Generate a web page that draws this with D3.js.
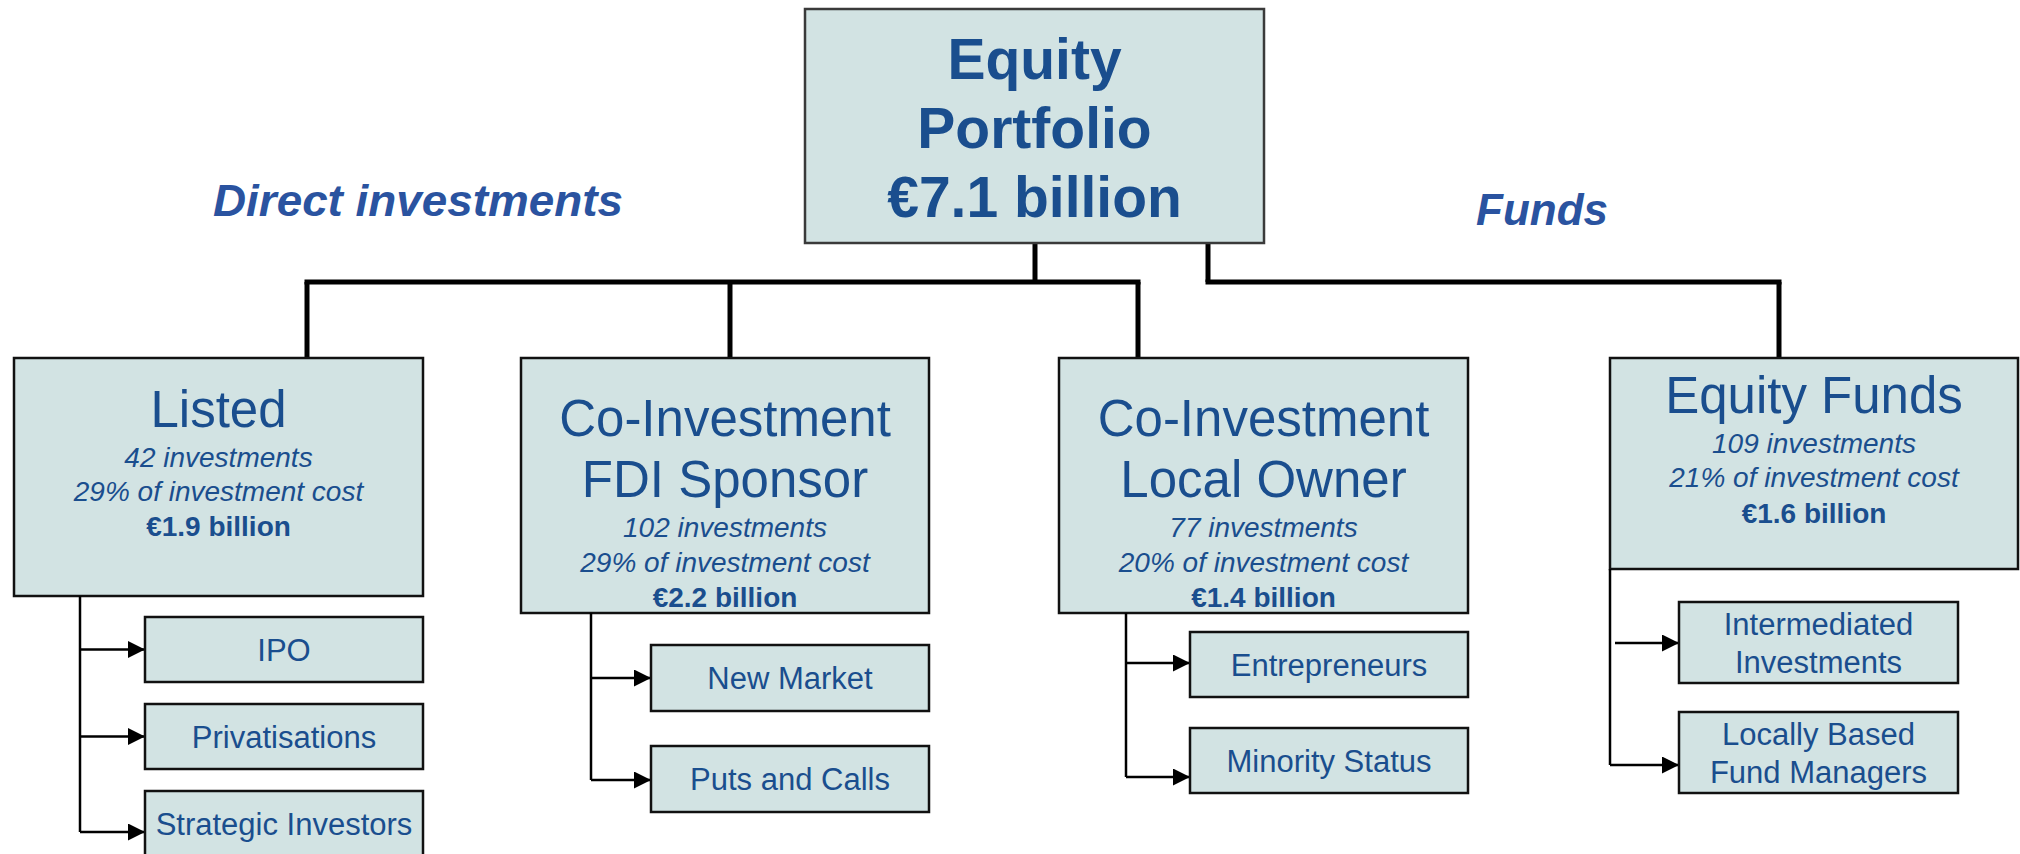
<!DOCTYPE html>
<html>
<head>
<meta charset="utf-8">
<script src="https://cdn.jsdelivr.net/npm/d3@7"></script>
<style>
  body { margin: 0; background: #fff; }
  svg { display: block; font-family: "Liberation Sans", Arial, sans-serif; }
</style>
</head>
<body>
<div id="chart"></div>
<script>
// chart content
const rootLines = ["Equity", "Portfolio", "€7.1 billion"];
const branchLabels = ["Direct investments", "Funds"];
const groupTitles = [["Listed"], ["Co-Investment", "FDI Sponsor"], ["Co-Investment", "Local Owner"], ["Equity Funds"]];
const investmentCounts = [42, 102, 77, 109];
const costShares = [29, 29, 20, 21];
const valuesBn = [1.9, 2.2, 1.4, 1.6];
const groupBranch = [0, 0, 0, 1];
const subTypes = [
  [["IPO"], ["Privatisations"], ["Strategic Investors"]],
  [["New Market"], ["Puts and Calls"]],
  [["Entrepreneurs"], ["Minority Status"]],
  [["Intermediated", "Investments"], ["Locally Based", "Fund Managers"]]
];

// layout (pixels)
const W = 2020, H = 854;
const fill = "#d2e3e3", ink = "#1a4e8e", headInk = "#2a53a0";
const busY = 282;
const root = {x: 805, y: 9, w: 459, h: 234, lineY: [79, 148, 217]};
const branchPos = [{x: 418, y: 216, stub: 1035}, {x: 1542, y: 225, stub: 1208}];
const layout = [
  {x: 14,   y: 358, w: 409, h: 238, top: 307,  titleY: [427],      infoY: [467, 501, 536], stemX: 80,   subX: 145,  subW: 278, subY: [617, 704, 791], subH: 65, arrowY: [649.5, 736.5, 832], arrowFrom: [80, 80, 80]},
  {x: 521,  y: 358, w: 408, h: 255, top: 730,  titleY: [436, 497], infoY: [537, 572, 607], stemX: 591,  subX: 651,  subW: 278, subY: [645, 746],      subH: 66, arrowY: [678, 780],          arrowFrom: [591, 591]},
  {x: 1059, y: 358, w: 409, h: 255, top: 1138, titleY: [436, 497], infoY: [537, 572, 607], stemX: 1126, subX: 1190, subW: 278, subY: [632, 728],      subH: 65, arrowY: [663, 777],          arrowFrom: [1126, 1126]},
  {x: 1610, y: 358, w: 408, h: 211, top: 1779, titleY: [413],      infoY: [453, 487, 523], stemX: 1610, subX: 1679, subW: 279, subY: [602, 712],      subH: 81, arrowY: [643, 765],          arrowFrom: [1615, 1610]}
];

const svg = d3.select("#chart").append("svg")
  .attr("width", W).attr("height", H);

svg.append("defs").append("marker")
  .attr("id", "arrow")
  .attr("viewBox", "0 0 10 10")
  .attr("refX", 10).attr("refY", 5)
  .attr("markerWidth", 17).attr("markerHeight", 17)
  .attr("markerUnits", "userSpaceOnUse")
  .attr("orient", "auto")
  .append("path").attr("d", "M0,0L10,5L0,10Z").attr("fill", "#000");

const line = d3.line();

// main tree connectors
branchPos.forEach((b, bi) => {
  const tops = layout.filter((g, i) => groupBranch[i] === bi).map(g => g.top);
  const xs = tops.concat([b.stub]);
  svg.append("path")
    .attr("d", line([[b.stub, root.y + root.h], [b.stub, busY]]))
    .attr("stroke", "#000").attr("stroke-width", 5).attr("fill", "none");
  svg.append("path")
    .attr("d", line([[d3.min(xs) - 2.5, busY], [d3.max(xs) + 2.5, busY]]))
    .attr("stroke", "#000").attr("stroke-width", 5).attr("fill", "none");
  tops.forEach(t => {
    svg.append("path")
      .attr("d", line([[t, busY], [t, 358]]))
      .attr("stroke", "#000").attr("stroke-width", 5).attr("fill", "none");
  });
});

// root box
svg.append("rect")
  .attr("x", root.x).attr("y", root.y).attr("width", root.w).attr("height", root.h)
  .attr("fill", fill).attr("stroke", "#3a3a3a").attr("stroke-width", 2.5);
svg.selectAll("text.root").data(rootLines).join("text")
  .attr("class", "root")
  .attr("x", root.x + root.w / 2).attr("y", (d, i) => root.lineY[i])
  .attr("text-anchor", "middle")
  .attr("font-size", 57).attr("font-weight", "bold").attr("fill", ink)
  .text(d => d);

// branch labels
svg.selectAll("text.branch").data(branchLabels).join("text")
  .attr("class", "branch")
  .attr("x", (d, i) => branchPos[i].x).attr("y", (d, i) => branchPos[i].y)
  .attr("text-anchor", "middle")
  .attr("font-size", 44).attr("font-weight", "bold").attr("font-style", "italic")
  .attr("fill", headInk)
  .attr("textLength", (d, i) => i === 0 ? 410 : null)
  .attr("lengthAdjust", "spacingAndGlyphs")
  .text(d => d);

// groups
const groups = svg.selectAll("g.group").data(layout).join("g").attr("class", "group");

groups.append("rect")
  .attr("x", d => d.x).attr("y", d => d.y).attr("width", d => d.w).attr("height", d => d.h)
  .attr("fill", fill).attr("stroke", "#111").attr("stroke-width", 2.5);

groups.each(function (g, gi) {
  const sel = d3.select(this);
  const cx = g.x + g.w / 2;
  sel.selectAll("text.title").data(groupTitles[gi]).join("text")
    .attr("class", "title")
    .attr("x", cx).attr("y", (d, i) => g.titleY[i])
    .attr("text-anchor", "middle").attr("font-size", 51).attr("fill", ink)
    .text(d => d);

  const info = [
    investmentCounts[gi] + " investments",
    costShares[gi] + "% of investment cost",
    "€" + valuesBn[gi].toFixed(1) + " billion"
  ];
  sel.selectAll("text.info").data(info).join("text")
    .attr("class", "info")
    .attr("x", cx).attr("y", (d, i) => g.infoY[i])
    .attr("text-anchor", "middle").attr("font-size", 28).attr("fill", ink)
    .attr("font-style", (d, i) => i < 2 ? "italic" : "normal")
    .attr("font-weight", (d, i) => i === 2 ? "bold" : "normal")
    .text(d => d);

  // stem + arrows
  sel.append("path")
    .attr("d", line([[g.stemX, g.y + g.h], [g.stemX, d3.max(g.arrowY)]]))
    .attr("stroke", "#000").attr("stroke-width", 2.5).attr("fill", "none");
  sel.selectAll("path.arrow").data(g.arrowY).join("path")
    .attr("class", "arrow")
    .attr("d", (d, i) => line([[g.arrowFrom[i], d], [g.subX, d]]))
    .attr("stroke", "#000").attr("stroke-width", 2.5).attr("fill", "none")
    .attr("marker-end", "url(#arrow)");

  // sub boxes
  const subs = sel.selectAll("g.sub").data(subTypes[gi]).join("g").attr("class", "sub");
  subs.append("rect")
    .attr("x", g.subX).attr("y", (d, i) => g.subY[i])
    .attr("width", g.subW).attr("height", g.subH)
    .attr("fill", fill).attr("stroke", "#111").attr("stroke-width", 2.5);
  subs.each(function (lines, si) {
    const mid = g.subY[si] + g.subH / 2;
    d3.select(this).selectAll("text").data(lines).join("text")
      .attr("x", g.subX + g.subW / 2)
      .attr("y", (d, i) => mid + 11 + (i - (lines.length - 1) / 2) * 38)
      .attr("text-anchor", "middle").attr("font-size", 31).attr("fill", ink)
      .text(d => d);
  });
});
</script>
</body>
</html>
